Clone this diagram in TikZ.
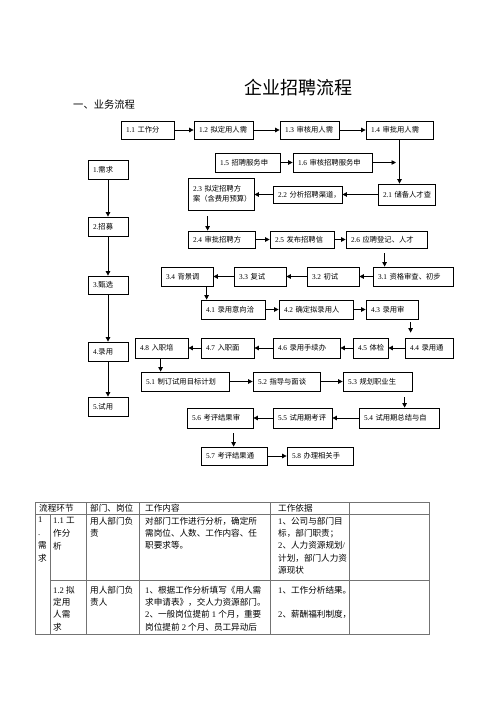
\documentclass[tikz,border=0pt]{standalone}
\usepackage{fontspec}
\setmainfont{Liberation Serif}
\newfontfamily\cjk{Noto Sans CJK SC}
\usetikzlibrary{arrows.meta}
\newXeTeXintercharclass\CJKcls
\newcount\cjkc
\cjkc="3000
\loop \XeTeXcharclass\cjkc=\CJKcls \advance\cjkc by 1 \ifnum\cjkc<"3040 \repeat
\cjkc="4E00
\loop \XeTeXcharclass\cjkc=\CJKcls \advance\cjkc by 1 \ifnum\cjkc<"A000 \repeat
\cjkc="FF00
\loop \XeTeXcharclass\cjkc=\CJKcls \advance\cjkc by 1 \ifnum\cjkc<"FFF0 \repeat
\XeTeXinterchartoks 0 \CJKcls = {\cjk}
\XeTeXinterchartoks \CJKcls 0 = {\rmfamily}
\XeTeXinterchartoks 4095 \CJKcls = {\cjk}
\XeTeXinterchartoks \CJKcls 4095 = {\rmfamily}
\XeTeXinterchartokenstate=1
\newcommand\mkbox[6]{%
  \pgfmathsetmacro\mybw{#4-#2}\pgfmathsetmacro\mybh{#5-#3}\pgfmathsetmacro\mytw{#4-#2-10}%
  \node[bx,text width=\mytw pt,minimum height=\mybh pt] (#1) at ({(#2+#4)/2},{(#3+#5)/2}) {#6};}
\tikzset{
  bx/.style={draw, line width=0.8pt, inner xsep=5pt, inner ysep=1pt, align=left, font=\fontsize{7.3}{10}\selectfont},
  arr/.style={line width=0.8pt, -{Triangle[length=4.5pt,width=4.5pt]}},
  tl/.style={draw=black!55, line width=0.8pt},
  tt/.style={inner sep=0pt, anchor=north west, align=left, font=\fontsize{8.6}{12.3}\selectfont}
}
\begin{document}
\begin{tikzpicture}[x=1pt,y=-1pt]
\useasboundingbox (0,0) rectangle (500,708);
\fill[white] (0,0) rectangle (500,708);
\node[font=\fontsize{18}{20}\selectfont] (title) at (298,88) {企业招聘流程};
\node[anchor=west, inner sep=0pt, font=\fontsize{10.3}{12}\selectfont] (h1) at (73,105) {一、业务流程};
% row 1
\mkbox{n11}{121}{121}{174}{139}{1.1~工作分}
\mkbox{n12}{194}{121}{253}{139}{1.2~拟定用人需}
\mkbox{n13}{280}{121}{339}{139}{1.3~审核用人需}
\mkbox{n14}{366}{121}{433}{139}{1.4~审批用人需}
\mkbox{n15}{215}{153}{280}{172}{1.5~招聘服务申}
\mkbox{n16}{293}{153}{372}{172}{1.6~审核招聘服务申}
\coordinate (j16) at (396,162.5);
\mkbox{n21}{378}{184}{435}{205}{2.1~储备人才查}
\mkbox{n22}{273}{186}{342}{203}{2.2~分析招聘渠道，}
\mkbox{n23}{188}{178}{254}{210}{2.3~拟定招聘方\\案（含费用预算）}
\mkbox{n24}{188}{231}{255}{248}{2.4~审批招聘方}
\mkbox{n25}{270}{231}{334}{248}{2.5~发布招聘信}
\mkbox{n26}{346}{231}{427}{248}{2.6~应聘登记、人才}
\mkbox{n31}{373}{267}{453}{286}{3.1~资格审查、初步}
\mkbox{n32}{307}{267}{359}{286}{3.2~初试}
\mkbox{n33}{234}{267}{286}{286}{3.3~复试}
\mkbox{n34}{161}{267}{213}{286}{3.4~背景调}
\mkbox{n41}{201}{300}{265}{319}{4.1~录用意向洽}
\mkbox{n42}{279}{300}{353}{319}{4.2~确定拟录用人}
\mkbox{n43}{366}{300}{418}{319}{4.3~录用审}
\mkbox{n44}{405}{338}{453}{358}{4.4~录用通}
\mkbox{n45}{353}{338}{388}{358}{4.5~体检}
\mkbox{n46}{273}{338}{340}{358}{4.6~录用手续办}
\mkbox{n47}{201}{338}{254}{358}{4.7~入职面}
\mkbox{n48}{135}{338}{188}{358}{4.8~入职培}
\mkbox{n51}{141}{372}{229}{391}{5.1~制订试用目标计划}
\mkbox{n52}{253}{372}{320}{391}{5.2~指导与面谈}
\mkbox{n53}{343}{372}{412}{391}{5.3~规划职业生}
\mkbox{n54}{359}{408}{439}{428}{5.4~试用期总结与自}
\mkbox{n55}{273}{408}{332}{428}{5.5~试用期考评}
\mkbox{n56}{187}{408}{253}{428}{5.6~考评结果审}
\mkbox{n57}{201}{447}{267}{465}{5.7~考评结果通}
\mkbox{n58}{287}{447}{353}{465}{5.8~办理相关手}
% left column
\mkbox{L1}{88}{160}{128}{179}{1.需求}
\mkbox{L2}{88}{217}{128}{236}{2.招募}
\mkbox{L3}{88}{276}{128}{294}{3.甄选}
\mkbox{L4}{88}{342}{128}{361}{4.录用}
\mkbox{L5}{88}{397}{128}{416}{5.试用}
% connectors
\draw[arr] (n11) -- (n12);
\draw[arr] (n12) -- (n13);
\draw[arr] (n13) -- (n14);
\draw[arr] (n14.south) -- (n14.south |- n21.north);
\draw[arr] (n15) -- (n16);
\draw[arr] (n16.east) -- (j16);
\draw[arr] (n21) -- (n22);
\draw[arr] (n22.west) -- (n22.west -| n23.east);
\draw[arr, shorten <=6pt] ([xshift=20pt]n23.south west) -- ([xshift=20pt]n24.north west);
\draw[arr] (n24) -- (n25);
\draw[arr] (n25) -- (n26);
\draw[arr, shorten <=5pt] ([xshift=39pt]n26.south west) -- ([xshift=12pt]n31.north west);
\draw[arr] (n31) -- (n32);
\draw[arr] (n32) -- (n33);
\draw[arr] (n33) -- (n34);
\draw[arr] ([xshift=46pt]n34.south west) -- ([xshift=6pt]n41.north west);
\draw[arr] (n41) -- (n42);
\draw[arr] (n42) -- (n43);
\draw[arr, shorten <=3pt, shorten >=5pt] ([xshift=45pt]n43.south west) -- ([xshift=6pt]n44.north west);
\draw[arr] (n44) -- (n45);
\draw[arr] (n45) -- (n46);
\draw[arr] (n46) -- (n47);
\draw[arr] (n47) -- (n48);
\draw[arr] ([xshift=26pt]n48.south west) -- ([xshift=20pt]n51.north west);
\draw[arr] (n51) -- (n52);
\draw[arr] (n52) -- (n53);
\draw[arr, shorten <=6pt] ([xshift=62pt]n53.south west) -- ([xshift=46pt]n54.north west);
\draw[arr] (n54) -- (n55);
\draw[arr] (n55) -- (n56);
\draw[arr, shorten <=5pt] ([xshift=47pt]n56.south west) -- ([xshift=33pt]n57.north west);
\draw[arr] (n57) -- (n58);
\draw[arr] (L1) -- (L2);
\draw[arr] (L2) -- (L3);
\draw[arr] (L3) -- (L4);
\draw[arr] (L4) -- (L5);
% table
\draw[tl] (35,502) rectangle (429,634);
\draw[tl] (35,514) -- (429,514);
\draw[tl] (50,580) -- (429,580);
\draw[tl] (50,514) -- (50,634);
\foreach \cx in {86,139,270,349} \draw[tl] (\cx,502) -- (\cx,634);
\node[tt] (th1) at (39,503.7) {流程环节};
\node[tt] (th2) at (90,503.7) {部门、岗位};
\node[tt] (th3) at (145,503.7) {工作内容};
\node[tt] (th4) at (278,503.7) {工作依据};
\node[tt, font=\fontsize{8.6}{13}\selectfont] (c1) at (38,516.7) {1\\.\\需\\求};
\node[tt, font=\fontsize{8.6}{13}\selectfont] (c2a) at (53,516.7) {1.1 工\\作分\\析};
\node[tt] (c3a) at (90,516.7) {用人部门负\\责};
\node[tt] (c4a) at (145,516.7) {对部门工作进行分析，确定所\\需岗位、人数、工作内容、任\\职要求等。};
\node[tt] (c5a) at (278,516.7) {1、公司与部门目\\标，部门职责；\\2、人力资源规划/\\计划，部门人力资\\源现状};
\node[tt] (c2b) at (53,585.7) {1.2 拟\\定用\\人需\\求};
\node[tt] (c3b) at (90,585.7) {用人部门负\\责人};
\node[tt] (c4b) at (145,585.7) {1、根据工作分析填写《用人需\\求申请表》，交人力资源部门。\\2、一般岗位提前 1 个月，重要\\岗位提前 2 个月、员工异动后};
\node[tt] (c5b) at (278,585.7) {1、工作分析结果。\\[12.3pt]2、薪酬福利制度，};
\end{tikzpicture}
\end{document}
